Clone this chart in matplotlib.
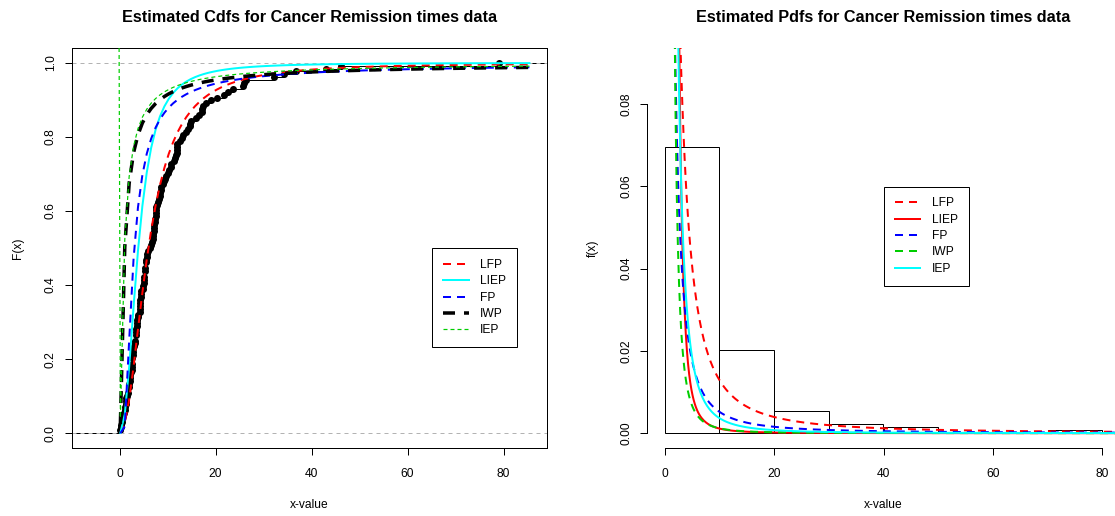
import numpy as np
import matplotlib
matplotlib.use("Agg")
import matplotlib.pyplot as plt
from matplotlib.lines import Line2D

plt.rcParams["font.family"] = ["Liberation Sans", "DejaVu Sans"]
plt.rcParams["lines.scale_dashes"] = False

# Remission times (months) of 128 bladder cancer patients
remission = np.array([
    0.08, 2.09, 3.48, 4.87, 6.94, 8.66, 13.11, 23.63, 0.20, 2.23, 3.52, 4.98,
    6.97, 9.02, 13.29, 0.40, 2.26, 3.57, 5.06, 7.09, 9.22, 13.80, 25.74, 0.50,
    2.46, 3.64, 5.09, 7.26, 9.47, 14.24, 25.82, 0.51, 2.54, 3.70, 5.17, 7.28,
    9.74, 14.76, 26.31, 0.81, 2.62, 3.82, 5.32, 7.32, 10.06, 14.77, 32.15, 2.64,
    3.88, 5.32, 7.39, 10.34, 14.83, 34.26, 0.90, 2.69, 4.18, 5.34, 7.59, 10.66,
    15.96, 36.66, 1.05, 2.69, 4.23, 5.41, 7.62, 10.75, 16.62, 43.01, 1.19, 2.75,
    4.26, 5.41, 7.63, 17.12, 46.12, 1.26, 2.83, 4.33, 5.49, 7.66, 11.25, 17.14,
    79.05, 1.35, 2.87, 5.62, 7.87, 11.64, 17.36, 1.40, 3.02, 4.34, 5.71, 7.93,
    11.79, 18.10, 1.46, 4.40, 5.85, 8.26, 11.98, 19.13, 1.76, 3.25, 4.50, 6.25,
    8.37, 12.02, 2.02, 3.31, 4.51, 6.54, 8.53, 12.03, 20.28, 2.02, 3.36, 6.76,
    12.07, 21.73, 2.07, 3.36, 6.93, 8.65, 12.63, 22.69,
])

hist_breaks = [0, 10, 20, 30, 40, 50, 60, 70, 80]
model_labels = ["LFP", "LIEP", "FP", "IWP", "IEP"]

# Fitted cdfs: log-logistic (scale, shape)
lfp_cdf_par = [6.01, 2.1]
liep_cdf_par = [3.89, 2.3]
# Fitted cdfs: Poisson-compounded Frechet (theta, scales, shapes)
fp_cdf_par = [0.0, [1.89, 1.0], [2.05, 1.0]]
iwp_cdf_par = [0.0, [0.726], [0.92]]
iep_cdf_par = [-1.2, [0.45], [1.0]]

# Fitted pdfs: Poisson-compounded Frechet (theta, scale, shape)
lfp_pdf_par = [1.5, 2.62, 0.7]
liep_pdf_par = [4.0, 2.0, 1.6]
fp_pdf_par = [3.0, 1.5, 0.55]
iwp_pdf_par = [2.5, 0.933, 1.4]
iep_pdf_par = [1.5, 1.206, 1.3]
pdf_x_start = 1.0


def loglogistic_cdf(x, scale, shape):
    with np.errstate(all="ignore"):
        z = (x / scale) ** shape
        return z / (1.0 + z)


def frechet_poisson_cdf(x, theta, scales, shapes):
    with np.errstate(all="ignore"):
        h = np.zeros_like(x)
        for s, a in zip(scales, shapes):
            h = h + (s / x) ** a
        G = np.exp(-h)
        if theta == 0:
            return G
        return (1.0 - np.exp(-theta * G)) / (1.0 - np.exp(-theta))


def frechet_poisson_pdf(x, theta, scale, shape):
    with np.errstate(all="ignore"):
        t = (scale / x) ** shape
        G = np.exp(-t)
        g = G * shape / x * t
        return theta * g * np.exp(-theta * G) / (1.0 - np.exp(-theta))


# R-style ecdf plotting range
knots = np.unique(remission)
Fk = np.searchsorted(np.sort(remission), knots, side="right") / remission.size
dr = max(0.08 * (knots[-1] - knots[0]), np.median(np.diff(knots)))
ecdf_lo, ecdf_hi = knots[0] - dr, knots[-1] + dr
span = ecdf_hi - ecdf_lo
left_xlim = (ecdf_lo - 0.04 * span, ecdf_hi + 0.04 * span)

hspan = hist_breaks[-1] - hist_breaks[0]
right_xlim = (hist_breaks[0] - 0.04 * hspan, hist_breaks[-1] + 0.04 * hspan)
right_ylim = (0.0, 0.09)

W, H = 1115, 516
fig = plt.figure(figsize=(W / 100, H / 100), dpi=100)
PX = 0.72  # points per pixel
FS = 12 * PX
TFS = 16.2 * PX
ax1 = fig.add_axes([72 / W, (H - 448) / H, 475 / W, 400 / H])
ax2 = fig.add_axes([647 / W, (H - 448) / H, 473 / W, 400 / H])

# ---------------- left: empirical and fitted cdfs ----------------
xs = np.linspace(ecdf_lo, ecdf_hi, 101)
lefts = np.concatenate([[ecdf_lo - dr], knots])
rights = np.concatenate([knots, [ecdf_hi + dr]])
levels = np.concatenate([[0.0], Fk])
ax1.hlines(levels, lefts, rights, color="black", lw=1.0 * PX, zorder=2)
ax1.plot(knots, Fk, "o", color="black", ms=7 * PX, mew=0, zorder=2)
for yv in (0.0, 1.0):
    ax1.axhline(yv, color="#B3B3B3", lw=1.0 * PX, dashes=(4 * PX, 4 * PX), zorder=2.5)

cdf_styles = [
    dict(color="red", lw=2 * PX, dashes=(8 * PX, 6 * PX)),
    dict(color="cyan", lw=2 * PX, linestyle="-"),
    dict(color="blue", lw=2 * PX, dashes=(8 * PX, 6 * PX)),
    dict(color="black", lw=3.5 * PX, dashes=(12 * PX, 9 * PX)),
    dict(color="#00CD00", lw=1.2 * PX, dashes=(4 * PX, 3 * PX)),
]
cdf_curves = [
    loglogistic_cdf(xs, *lfp_cdf_par),
    loglogistic_cdf(xs, *liep_cdf_par),
    frechet_poisson_cdf(xs, *fp_cdf_par),
    frechet_poisson_cdf(xs, *iwp_cdf_par),
    frechet_poisson_cdf(xs, *iep_cdf_par),
]
for yc, st in zip(cdf_curves, cdf_styles):
    ax1.plot(xs, yc, zorder=3, **st)

ax1.set_xlim(left_xlim)
ax1.set_ylim(-0.04, 1.04)
ax1.set_xticks([0, 20, 40, 60, 80])
ax1.set_yticks([0.0, 0.2, 0.4, 0.6, 0.8, 1.0])
ax1.set_yticklabels(["0.0", "0.2", "0.4", "0.6", "0.8", "1.0"], rotation=90, va="center")
for sp in ax1.spines.values():
    sp.set_linewidth(1.0 * PX)
    sp.set_color("black")

legend_kw = dict(loc="upper left", fontsize=FS, frameon=True, fancybox=False,
                 framealpha=1, edgecolor="black", borderpad=0.9,
                 labelspacing=0.36, handlelength=2.13, handletextpad=0.95,
                 borderaxespad=0)
h1 = [Line2D([], [], **st) for st in cdf_styles]
leg1 = ax1.legend(h1, model_labels,
                  bbox_to_anchor=((432.3 - 72) / 475, (448 - 248.3) / 400),
                  **legend_kw)
leg1.get_frame().set_linewidth(1.0 * PX)

ax1.text(0.5, 1 + 30 / 400, "Estimated Cdfs for Cancer Remission times data",
         transform=ax1.transAxes, ha="center", va="center",
         fontsize=TFS, fontweight="bold")
ax1.text(0.5, -57 / 400, "x-value", transform=ax1.transAxes,
         ha="center", va="center", fontsize=FS)
ax1.text(-54 / 475, 0.5, "F(x)", transform=ax1.transAxes, rotation=90,
         ha="center", va="center", fontsize=FS)

# ---------------- right: histogram and fitted pdfs ----------------
ax2.hist(remission, bins=hist_breaks, density=True, histtype="bar",
         facecolor="none", edgecolor="black", linewidth=1.0 * PX, zorder=1)

xr = np.linspace(pdf_x_start, right_xlim[1], 401)
pdf_styles = [
    dict(color="red", lw=2 * PX, dashes=(8 * PX, 6 * PX)),
    dict(color="red", lw=2 * PX, linestyle="-"),
    dict(color="blue", lw=2 * PX, dashes=(8 * PX, 6 * PX)),
    dict(color="#00CD00", lw=2 * PX, dashes=(8 * PX, 6 * PX)),
    dict(color="cyan", lw=2 * PX, linestyle="-"),
]
pdf_curves = [
    frechet_poisson_pdf(xr, *lfp_pdf_par),
    frechet_poisson_pdf(xr, *liep_pdf_par),
    frechet_poisson_pdf(xr, *fp_pdf_par),
    frechet_poisson_pdf(xr, *iwp_pdf_par),
    frechet_poisson_pdf(xr, *iep_pdf_par),
]
for yc, st in zip(pdf_curves, pdf_styles):
    ax2.plot(xr, yc, zorder=3, **st)

pad_y = 0.04 * (right_ylim[1] - right_ylim[0])
ax2.set_xlim(right_xlim)
ax2.set_ylim(right_ylim[0] - pad_y, right_ylim[1] + pad_y)
ax2.set_xticks([0, 20, 40, 60, 80])
ax2.set_yticks([0.0, 0.02, 0.04, 0.06, 0.08])
ax2.set_yticklabels(["0.00", "0.02", "0.04", "0.06", "0.08"], rotation=90, va="center")
ax2.spines["top"].set_visible(False)
ax2.spines["right"].set_visible(False)
ax2.spines["bottom"].set_bounds(0, 80)
ax2.spines["left"].set_bounds(0, 0.08)
for sp in ("left", "bottom"):
    ax2.spines[sp].set_linewidth(1.0 * PX)

h2 = [Line2D([], [], **st) for st in pdf_styles]
leg2 = ax2.legend(h2, model_labels,
                  bbox_to_anchor=((884 - 647) / 473, (448 - 186.7) / 400),
                  **legend_kw)
leg2.get_frame().set_linewidth(1.0 * PX)

ax2.text(0.5, 1 + 30 / 400, "Estimated Pdfs for Cancer Remission times data",
         transform=ax2.transAxes, ha="center", va="center",
         fontsize=TFS, fontweight="bold")
ax2.text(0.5, -57 / 400, "x-value", transform=ax2.transAxes,
         ha="center", va="center", fontsize=FS)
ax2.text(-54 / 473, 0.5, "f(x)", transform=ax2.transAxes, rotation=90,
         ha="center", va="center", fontsize=FS)

for ax in (ax1, ax2):
    ax.tick_params(direction="out", length=7 * PX, width=1.0 * PX,
                   labelsize=FS, colors="black")
    ax.tick_params(axis="x", pad=13 * PX)
    ax.tick_params(axis="y", pad=8 * PX)

fig.savefig("out.png", dpi=100)
